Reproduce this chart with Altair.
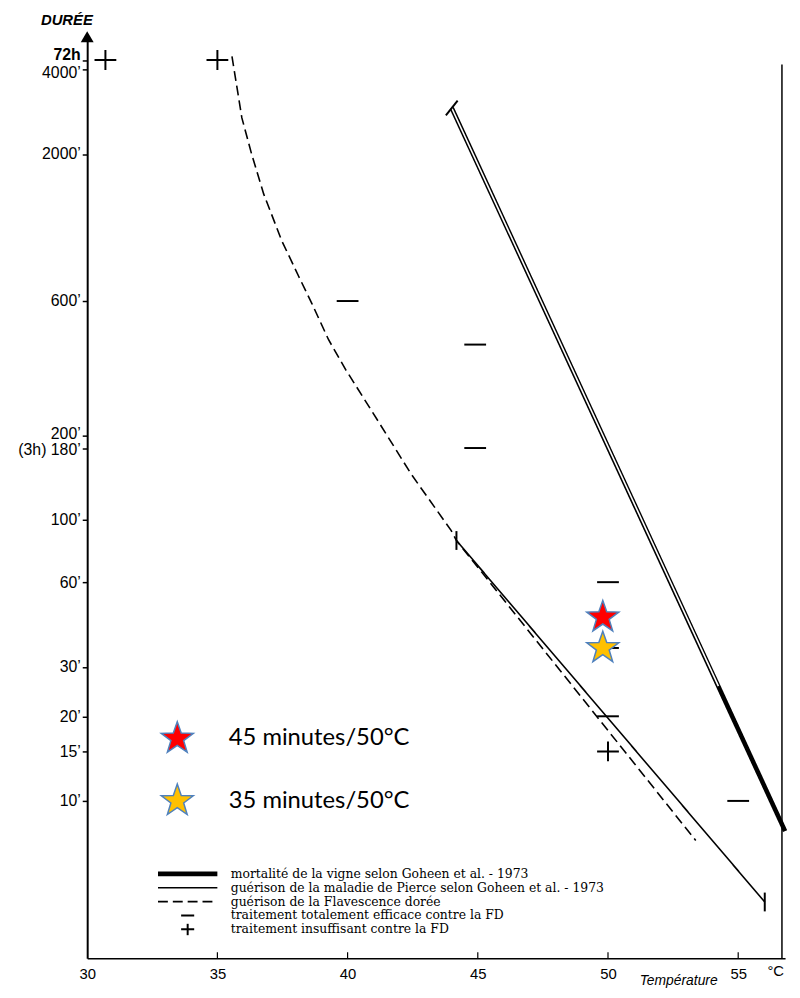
import altair as alt
import pandas as pd

# ---------------- data ----------------
S_MORT = "mortalité de la vigne selon Goheen et al. - 1973"
S_PIERCE = "guérison de la maladie de Pierce selon Goheen et al. - 1973"
S_FD = "guérison de la Flavescence dorée"
S_EFF = "traitement totalement efficace contre la FD"
S_INS = "traitement insuffisant contre la FD"
SERIES = [S_MORT, S_PIERCE, S_FD, S_EFF, S_INS]

FD_T = [35.56, 35.94, 36.32, 36.78, 37.47, 38.12, 38.62, 39.27, 39.92, 41.19, 42.45, 43.98, 44.18, 53.37]
FD_D = [4450, 2689, 1991, 1440, 984, 735, 590, 437, 343, 223, 145, 91.5, 84.4, 7.23]
PIERCE_T = [44.18, 56.02]
PIERCE_D = [84.4, 4.37]
MORT_T = [44.0, 56.8]
MORT_D = [2917, 7.81]
MORT_GAP_T = [44.0, 54.24]
MORT_GAP_D = [2917, 25.6]

EFF_T = [40, 44.9, 44.9, 50, 50, 50, 55]
EFF_D = [600, 420, 180, 60, 35, 20, 10]
INS_T = [30.7, 35.0, 50.0]
INS_D = [4320, 4320, 15]

STAR_T = [49.8, 49.8]
STAR_D = [45, 35]
STAR_LABELS = ["45 minutes/50°C", "35 minutes/50°C"]
STAR_COLORS = ["#ff0000", "#ffc000"]

Y_TICKS = [10, 15, 20, 30, 60, 100, 180, 200, 600, 2000, 4000, 4320]
X_TICKS = [30, 35, 40, 45, 50, 55]
RIGHT_EDGE_T = [56.68]
UNIT_T = [56.44]
UNIT_TXT = ["°C"]

# ---------------- styling ----------------
FONT = "Liberation Sans"
W, H = 705, 933
SHAPE_LINE = "M-1,0L1,0"
SHAPE_MINUS = "M-0.22,0L0.22,0"
SHAPE_PLUS = "M-0.22,0L0.22,0M0,-0.2L0,0.2"
SHAPES = [SHAPE_LINE, SHAPE_LINE, SHAPE_LINE, SHAPE_MINUS, SHAPE_PLUS]
DASHES = [[1, 0], [1, 0], [10, 5], [1, 0], [1, 0]]
WIDTHS = [4.6, 1.6, 1.6, 2, 2]
STAR = ("M0,-1L0.235,-0.324L0.951,-0.309L0.38,0.124L0.588,0.809L0,0.4"
        "L-0.588,0.809L-0.38,0.124L-0.951,-0.309L-0.235,-0.324Z")

xs = alt.Scale(domain=[30, 56.8], nice=False, zero=False)
ys = alt.Scale(type="log", domain=[2.755, 5314], nice=False)

YEXPR = "datum.value == 4320 ? '72h' : (datum.value == 180 ? '(3h) 180’' : datum.value + '’')"

xaxis = alt.Axis(values=X_TICKS, format="d", grid=False, domainColor="black", domainWidth=1.5,
                 ticks=False, labelFont=FONT, labelFontSize=15, labelColor="black",
                 labelPadding=8, labelFlush=False, labelAngle=0,
                 title="Température", titleX=597, titleY=26, titleAlign="center",
                 titleBaseline="alphabetic", titleFontStyle="italic", titleFontWeight="normal",
                 titleFont=FONT, titleFontSize=14, titleColor="black")
yaxis = alt.Axis(values=Y_TICKS, labelExpr=YEXPR, grid=False, domainColor="black", domainWidth=2,
                 tickColor="black", tickSize=5, tickWidth=1.5, labelFont=FONT, labelFontSize=16,
                 labelColor="black", labelPadding=2, labelOverlap=False,
                 labelOffset={"condition": [{"test": "datum.value == 4320", "value": -6},
                                            {"test": "datum.value == 4000", "value": 3},
                                            {"test": "datum.value == 200", "value": -2},
                                            {"test": "datum.value == 180", "value": 2}],
                              "value": 0},
                 labelFontWeight={"condition": {"test": "datum.value == 4320", "value": "bold"},
                                  "value": "normal"},
                 title="DURÉE", titleAngle=0, titleX=-21, titleY=-15, titleAlign="center",
                 titleBaseline="middle", titleFontStyle="italic", titleFontWeight="bold",
                 titleFont=FONT, titleFontSize=15, titleColor="black")


def X():
    return alt.X("T:Q", scale=xs, axis=xaxis)


def Y():
    return alt.Y("D:Q", scale=ys, axis=yaxis)


LEG = alt.Legend(title=None, orient="none", legendX=69, legendY=842, labelFont="DejaVu Serif",
                 labelFontSize=12.5, labelColor="black", labelOffset=11, labelLimit=600,
                 symbolSize=3600, rowPadding=0, clipHeight=11.4, symbolStrokeColor="black")

rows = ([(S_MORT, t, d) for t, d in zip(MORT_T, MORT_D)]
        + [(S_PIERCE, t, d) for t, d in zip(PIERCE_T, PIERCE_D)]
        + [(S_FD, t, d) for t, d in zip(FD_T, FD_D)])
lines = pd.DataFrame(rows, columns=["serie", "T", "D"])

mrows = ([(S_EFF, t, d) for t, d in zip(EFF_T, EFF_D)]
         + [(S_INS, t, d) for t, d in zip(INS_T, INS_D)])
marks = pd.DataFrame(mrows, columns=["serie", "T", "D"])

line_layer = alt.Chart(lines).mark_line(color="black", strokeCap="butt").encode(
    x=X(), y=Y(),
    strokeDash=alt.StrokeDash("serie:N", scale=alt.Scale(domain=SERIES, range=DASHES), legend=LEG),
    strokeWidth=alt.StrokeWidth("serie:N", scale=alt.Scale(type="ordinal", domain=SERIES, range=WIDTHS),
                                legend=LEG),
)

gap_layer = alt.Chart(pd.DataFrame({"T": MORT_GAP_T, "D": MORT_GAP_D})).mark_line(
    color="white", strokeWidth=1.6, strokeCap="butt").encode(x=X(), y=Y())

pierce_bars = alt.Chart(pd.DataFrame({"T": PIERCE_T, "D": PIERCE_D})).mark_point(
    shape="M0,-1L0,1", size=361, filled=False, color="black", strokeWidth=2, opacity=1
).encode(x=X(), y=Y())

mort_bar = alt.Chart(pd.DataFrame({"T": MORT_T[:1], "D": MORT_D[:1]})).mark_point(
    shape="M-0.8,1L0.8,-1", size=220, filled=False, color="black", strokeWidth=2, opacity=1
).encode(x=X(), y=Y())

marker_layer = alt.Chart(marks).mark_point(filled=False, color="black", size=10000, strokeWidth=2,
                                           opacity=1).encode(
    x=X(), y=Y(),
    shape=alt.Shape("serie:N", scale=alt.Scale(domain=SERIES, range=SHAPES), legend=LEG),
)

star_layer = alt.Chart(pd.DataFrame({"T": STAR_T, "D": STAR_D, "label": STAR_LABELS})).mark_point(
    shape=STAR, size=1156, filled=True, stroke="#4f81bd", strokeWidth=1.5, opacity=1
).encode(
    x=X(), y=Y(),
    fill=alt.Fill("label:N", scale=alt.Scale(domain=STAR_LABELS, range=STAR_COLORS),
                  legend=alt.Legend(title=None, orient="none", legendX=73, legendY=693,
                                    symbolType=STAR, symbolSize=1156, symbolStrokeColor="#4f81bd",
                                    symbolStrokeWidth=1.5, labelFont="Lato", labelFontSize=24,
                                    labelColor="black", labelOffset=34, rowPadding=26,
                                    labelLimit=600)),
)

arrow = alt.Chart(pd.DataFrame({"T": [30]})).mark_point(
    shape="triangle-up", size=170, filled=True, color="black", opacity=1
).encode(x=X(), y=alt.value(2))

inner_ticks = alt.Chart(pd.DataFrame({"T": X_TICKS[1:]})).mark_rule(color="black", strokeWidth=1.2).encode(
    x=X(), y=alt.value(H - 6), y2=alt.value(H))

right_edge = alt.Chart(pd.DataFrame({"T": RIGHT_EDGE_T})).mark_rule(color="black", strokeWidth=1.5).encode(
    x=X(), y=alt.value(30), y2=alt.value(H))

unit = alt.Chart(pd.DataFrame({"T": UNIT_T, "txt": UNIT_TXT})).mark_text(
    font=FONT, fontSize=15, baseline="top", align="center", color="black"
).encode(x=X(), y=alt.value(H + 6), text="txt:N")

chart = alt.layer(
    line_layer, gap_layer, pierce_bars, mort_bar, marker_layer, star_layer,
    arrow, inner_ticks, right_edge, unit
).properties(
    width=W, height=H,
    autosize=alt.AutoSizeParams(type="none"),
    padding={"left": 80, "top": 22, "right": 7, "bottom": 27},
    background="white",
).configure_view(stroke=None)

chart.save("out.html", embed_options={"renderer": "svg", "actions": False})
